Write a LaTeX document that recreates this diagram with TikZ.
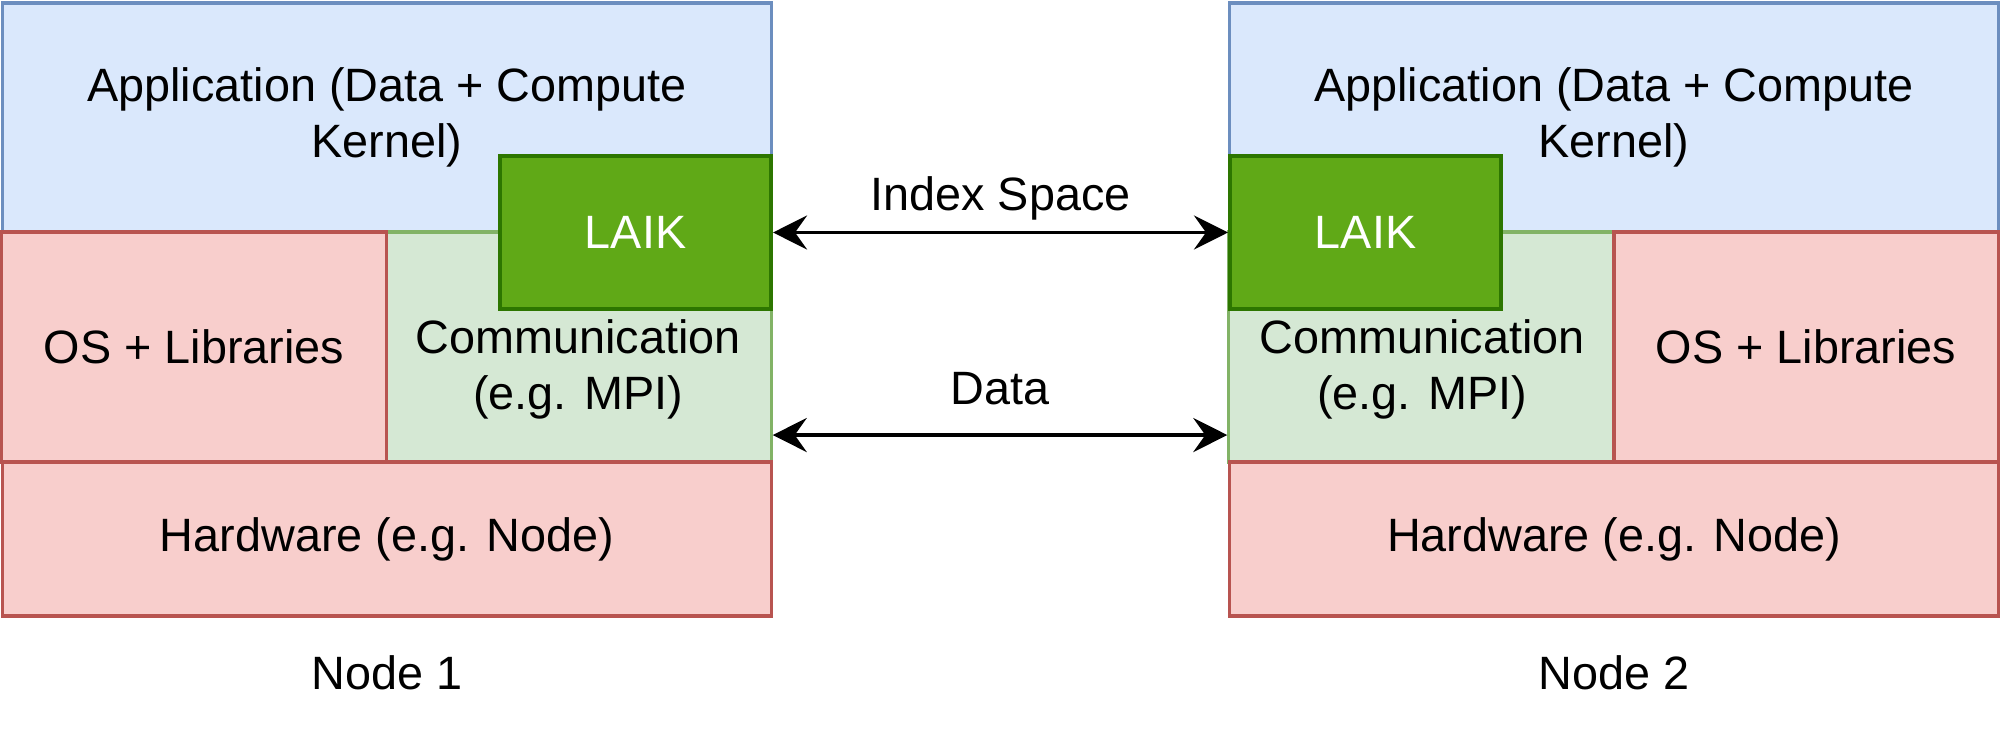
\documentclass[tikz,border=0pt]{standalone}
\usepackage{fontspec}
\setmainfont{Liberation Sans}
\usetikzlibrary{arrows.meta}
\definecolor{appfill}{HTML}{DAE8FC}
\definecolor{appline}{HTML}{6C8EBF}
\definecolor{sysfill}{HTML}{F8CECC}
\definecolor{sysline}{HTML}{B85450}
\definecolor{comfill}{HTML}{D5E8D4}
\definecolor{comline}{HTML}{82B366}
\definecolor{laikfill}{HTML}{60A917}
\definecolor{laikline}{HTML}{2D7600}
\begin{document}
\begin{tikzpicture}[x=0.01cm, y=-0.01cm,
		font=\fontsize{13.3}{15.9}\selectfont,
		layer/.style={draw, rectangle, line width=0.9pt, align=center, inner sep=0pt},
		app/.style={layer, fill=appfill, draw=appline, minimum width=7.68cm, minimum height=2.29cm},
		os/.style={layer, fill=sysfill, draw=sysline, minimum width=3.84cm, minimum height=2.30cm},
		comm/.style={layer, fill=comfill, draw=comline, minimum width=3.86cm, minimum height=2.30cm},
		hw/.style={layer, fill=sysfill, draw=sysline, minimum width=7.68cm, minimum height=1.54cm},
		laik/.style={layer, fill=laikfill, draw=laikline, line width=1.1pt, text=white, minimum width=2.71cm, minimum height=1.53cm},
		link/.style={<->, >={Stealth[length=3.4mm, width=3.4mm, inset=1.2mm]}, line width=1.1pt}]
		\useasboundingbox (0,0) rectangle (2001,734);
		% Node 1
		\node[app] (appL) at (387,117.5) {Application (Data + Compute\\Kernel)};
		\node[comm] (commL) at (578,347) {};
		\node[align=center] (commLtxt) at ([yshift=-0.22cm]commL.center) {Communication\\(e.g. MPI)};
		\node[os] (osL) at (194,347) {OS + Libraries};
		\node[hw] (hwL) at (387,539) {Hardware (e.g. Node)};
		\node[laik] (laikL) at (635.5,232.5) {LAIK};
		\node (nodeL) at (387,673) {Node 1};
		% Node 2
		\node[app] (appR) at (1614,117.5) {Application (Data + Compute\\Kernel)};
		\node[comm] (commR) at (1422,347) {};
		\node[align=center] (commRtxt) at ([yshift=-0.22cm]commR.center) {Communication\\(e.g. MPI)};
		\node[os] (osR) at (1806,347) {OS + Libraries};
		\node[hw] (hwR) at (1614,539) {Hardware (e.g. Node)};
		\node[laik] (laikR) at (1365.5,232.5) {LAIK};
		\node (nodeR) at (1614,673) {Node 2};
		% Arrows
		\draw[link] (laikL) -- (laikR) node[midway, anchor=base, yshift=0.22cm] {Index Space};
		\draw[link] ([yshift=-0.88cm]commL.east) -- ([yshift=-0.88cm]commR.west) node[midway, anchor=base, yshift=0.31cm] {Data};
	\end{tikzpicture}
\end{document}
